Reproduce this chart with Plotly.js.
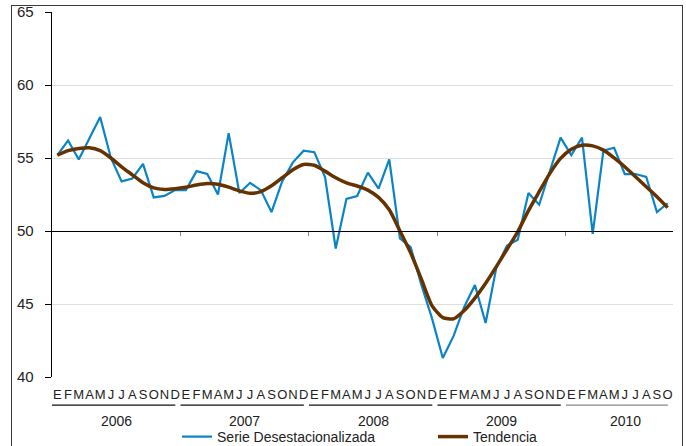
<!DOCTYPE html>
<html><head><meta charset="utf-8">
<script src="https://cdn.plot.ly/plotly-3.0.1.min.js"></script>
<style>
html,body{margin:0;padding:0;background:#fff;overflow:hidden;width:686px;height:446px;}
#chart{position:absolute;left:0;top:0;width:686px;height:446px;}
#frame{position:absolute;left:11px;top:5px;width:670px;height:480px;border:1.5px solid #3a3a3a;pointer-events:none;}
</style></head><body>
<div id="chart"></div><div id="frame"></div>
<script>
const monthLetters = ["E","F","M","A","M","J","J","A","S","O","N","D"];
const years = ["2006","2007","2008","2009","2010"];
const serie = [
  55.2, 56.2, 54.9, 56.4, 57.8, 55.0, 53.4, 53.6, 54.6, 52.3, 52.4, 52.8,
  52.8, 54.1, 53.9, 52.5, 56.7, 52.6, 53.3, 52.8, 51.3, 53.4, 54.7, 55.5,
  55.4, 53.7, 48.8, 52.2, 52.4, 54.0, 52.9, 54.9, 49.5, 48.9, 46.3, 44.0,
  41.3, 42.8, 44.8, 46.3, 43.7, 47.5, 49.0, 49.4, 52.6, 51.8, 54.1, 56.4,
  55.2, 56.4, 49.8, 55.5, 55.7, 53.9, 53.9, 53.7, 51.3, 51.9
];
const tendencia = [
  55.2, 55.5, 55.65, 55.7, 55.5, 55.0, 54.4, 53.85, 53.3, 52.95, 52.85, 52.9,
  53.0, 53.15, 53.25, 53.2, 53.0, 52.75, 52.58, 52.7, 53.1, 53.65, 54.2, 54.56,
  54.5, 54.1, 53.65, 53.3, 53.08, 52.8, 52.3, 51.45, 50.0, 48.5, 46.7, 44.87,
  44.07, 43.98, 44.55, 45.4, 46.42, 47.56, 48.75, 49.95, 51.4, 52.69, 53.95, 54.97,
  55.6, 55.88, 55.83, 55.54, 55.01, 54.4, 53.71, 53.03, 52.35, 51.6
];
const yTicks = [40, 45, 50, 55, 60, 65];

const n = serie.length;
const idx = serie.map((_, i) => i);
const tickText = idx.map(i => monthLetters[i % 12]);
const xRange = [-0.5, n - 0.5];
const baseFont = "Liberation Sans, Arial, sans-serif";

const shapes = [];
const annotations = [];
const yearBounds = [];
years.forEach((yr, k) => {
  const first = k * 12;
  const last = Math.min(k * 12 + 11, n - 1);
  if (k > 0) yearBounds.push(first - 0.5);
  shapes.push({type: "line", xref: "x", yref: "paper", x0: first - 0.5, x1: last + 0.02,
    y0: -0.077, y1: -0.077, line: {color: k === years.length - 1 ? "#8a8a8a" : "#111", width: 1.3}});
  annotations.push({xref: "x", yref: "paper", x: (first + last) / 2 + (last - first < 11 ? 0.6 : 0), y: -0.12,
    xanchor: "center", yanchor: "middle",
    text: yr, showarrow: false, font: {family: baseFont, size: 14, color: "#222"}});
});

const traces = [
  {x: idx, y: serie, type: "scatter", mode: "lines", name: "Serie Desestacionalizada",
   line: {color: "#0a84c6", width: 2.2}, legend: "legend", hoverinfo: "skip"},
  {x: idx, y: tendencia, type: "scatter", mode: "lines", name: "Tendencia", xaxis: "x2",
   line: {color: "#663300", width: 3.5, shape: "spline", smoothing: 0.6}, legend: "legend2", hoverinfo: "skip"}
];

const layout = {
  width: 686, height: 446,
  margin: {l: 52, r: 13, t: 12, b: 69, autoexpand: false},
  paper_bgcolor: "#fff", plot_bgcolor: "#fff",
  font: {family: baseFont, color: "#222"},
  showlegend: true,
  xaxis: {range: xRange, tickvals: idx, ticktext: tickText, ticks: "", showgrid: false,
    zeroline: false, showline: false, automargin: false, ticklabelstandoff: 8,
    tickfont: {family: baseFont, size: 13, color: "#222"}, tickangle: 0, fixedrange: true},
  xaxis2: {range: xRange, overlaying: "x", anchor: "free", position: 0.4, side: "bottom",
    showline: true, linecolor: "#000", linewidth: 1.3, ticks: "outside", ticklen: 4,
    tickcolor: "#888", tickwidth: 1, tickvals: yearBounds, showticklabels: false,
    showgrid: false, zeroline: false, automargin: false},
  yaxis: {range: [40, 65], tickvals: yTicks, showline: true, linecolor: "#000", linewidth: 1.3,
    ticks: "outside", ticklen: 6, tickcolor: "#000", gridcolor: "#dedede", gridwidth: 1,
    zeroline: false, automargin: false, ticklabelstandoff: 8,
    tickfont: {family: baseFont, size: 15, color: "#222"}},
  legend: {orientation: "h", x: 0.2013, xanchor: "left", y: -0.1644, yanchor: "middle",
    font: {family: baseFont, size: 14, color: "#222"}, bgcolor: "rgba(0,0,0,0)"},
  legend2: {orientation: "h", x: 0.6135, xanchor: "left", y: -0.1644, yanchor: "middle",
    font: {family: baseFont, size: 14, color: "#222"}, bgcolor: "rgba(0,0,0,0)"},
  shapes: shapes,
  annotations: annotations
};

Plotly.newPlot("chart", traces, layout, {displayModeBar: false, staticPlot: true});
</script>
</body></html>
